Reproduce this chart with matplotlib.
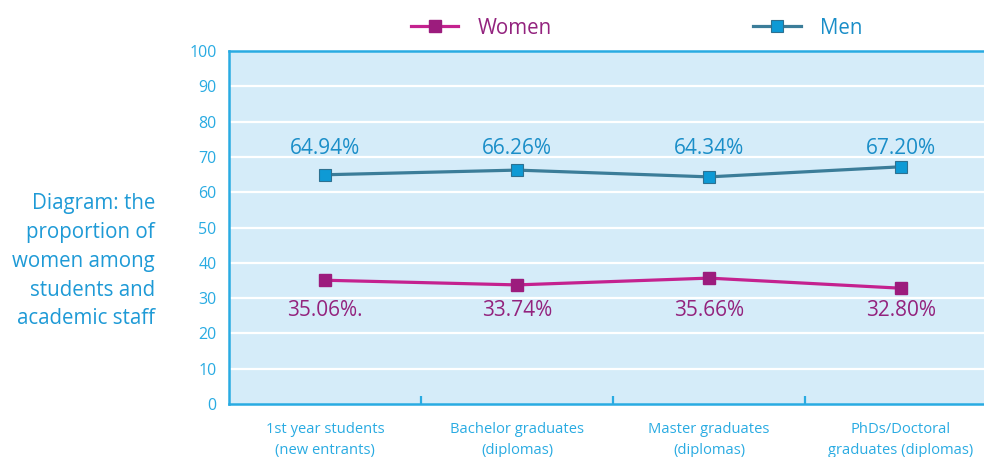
import numpy as np
import matplotlib.pyplot as plt

plt.rcParams['font.family'] = ['Open Sans', 'DejaVu Sans']

categories = ['1st year students\n(new entrants)', 'Bachelor graduates\n(diplomas)',
              'Master graduates\n(diplomas)', 'PhDs/Doctoral\ngraduates (diplomas)']
women = [35.06, 33.74, 35.66, 32.80]
men = [64.94, 66.26, 64.34, 67.20]
women_labels = ['35.06%.', '33.74%', '35.66%', '32.80%']
men_labels = ['64.94%', '66.26%', '64.34%', '67.20%']

blue = '#29abe2'

fig = plt.figure(figsize=(9.84, 4.57), dpi=100)
ax = fig.add_axes([229 / 984, 53 / 457, 768 / 984, 353 / 457])
ax.set_facecolor('#d5ecf9')

x = np.arange(len(categories))
ax.plot(x, women, color='#c4228f', lw=2.3, marker='s', ms=9,
        mfc='#9c1c7d', mec='#9c1c7d', label='Women', zorder=3)
ax.plot(x, men, color='#3b7d99', lw=2.3, marker='s', ms=9,
        mfc='#0e9ad5', mec='#2d7191', mew=0.8, label='Men', zorder=3)

# value labels sit on one row above / below the lines
for xi, t in zip(x, men_labels):
    ax.text(xi, 72.5, t, ha='center', va='center', fontsize=15, color='#1a8ec8')
for xi, t in zip(x, women_labels):
    ax.text(xi, 26.5, t, ha='center', va='center', fontsize=15, color='#93237e')

ax.set_xlim(-0.5, 3.5)
ax.set_ylim(0, 100)
ax.set_yticks(range(0, 101, 10))
for yv in range(10, 100, 10):
    ax.axhline(yv, color='white', lw=1.6, zorder=1)

ax.set_xticks(x)
ax.set_xticklabels(categories, fontsize=10.6, color=blue, linespacing=1.5)
ax.tick_params(axis='x', which='major', length=0, pad=13)
ax.set_xticks([0.5, 1.5, 2.5], minor=True)
ax.tick_params(axis='x', which='minor', direction='in', length=6, width=1.6, color=blue)
ax.tick_params(axis='y', length=0, pad=9, labelsize=11.5, labelcolor=blue)

for side in ['top', 'left', 'bottom']:
    ax.spines[side].set_color(blue)
    ax.spines[side].set_linewidth(1.8)
ax.spines['right'].set_visible(False)

handles, labels = ax.get_legend_handles_labels()
leg = fig.legend(handles, labels, loc='center left', bbox_to_anchor=(411 / 984, 1 - 28 / 457),
                 ncol=2, frameon=False, fontsize=14.8, handlelength=2.3, handletextpad=0.95,
                 columnspacing=9.8, borderpad=0, borderaxespad=0)
leg.get_texts()[0].set_color('#93237e')
leg.get_texts()[1].set_color('#1a8ec8')

fig.text(155 / 984, 1 - 261 / 457,
         'Diagram: the\nproportion of\nwomen among\nstudents and\nacademic staff',
         ha='right', va='center', fontsize=14.8, color='#1e9ad6', linespacing=1.5)

fig.savefig('out.png', dpi=100)
